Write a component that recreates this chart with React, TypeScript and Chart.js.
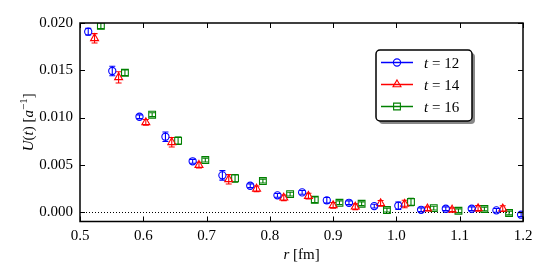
import { useEffect, useRef } from "react";
import { Chart, registerables } from "chart.js";
Chart.register(...registerables);

// ---- data ----
const rValues = [0.513, 0.551, 0.594, 0.635, 0.678, 0.725, 0.769, 0.812, 0.851, 0.890, 0.925, 0.965, 1.003, 1.039, 1.078, 1.119, 1.158, 1.197];
const seriesLabels = ["12", "14", "16"];
const seriesOffsets = [0, 0.01, 0.02];
const u12 = [0.01908, 0.01492, 0.01008, 0.00797, 0.00537, 0.00388, 0.00278, 0.00177, 0.00208, 0.00124, 0.00098, 0.00063, 0.00067, 0.00024, 0.00035, 0.00035, 0.00018, -0.00028];
const e12 = [0.00035, 0.0005, 0.0002, 0.0005, 0.0002, 0.0005, 0.0002, 0.0002, 0.0002, 0.0003, 0.0002, 0.0002, 0.0004, 0.0002, 0.0002, 0.0002, 0.0002, 0.0002];
const u14 = [0.01838, 0.01425, 0.00949, 0.00738, 0.00497, 0.00346, 0.00246, 0.00151, 0.00169, 0.00071, 0.00056, 0.00092, 0.00085, 0.00035, 0.00024, 0.00039, 0.00036];
const e14 = [0.0005, 0.0006, 0.0003, 0.0005, 0.0003, 0.0005, 0.0003, 0.0003, 0.0003, 0.0003, 0.0003, 0.0003, 0.0004, 0.0002, 0.0002, 0.0003, 0.0003];
const u16 = [0.01971, 0.01474, 0.0103, 0.00754, 0.0055, 0.00357, 0.00328, 0.0019, 0.0013, 0.00098, 0.00088, 0.00021, 0.00106, 0.00042, 0.00014, 0.00032, -0.0001];
const e16 = [0.0003, 0.0003, 0.0002, 0.0004, 0.0002, 0.0004, 0.0002, 0.0002, 0.0003, 0.0002, 0.0002, 0.0002, 0.0004, 0.0002, 0.0002, 0.0002, 0.0002];
const xTicks = [0.5, 0.6, 0.7, 0.8, 0.9, 1.0, 1.1, 1.2];
const yTicks = [0.0, 0.005, 0.01, 0.015, 0.02];

const colors = ["#0000ff", "#ff0000", "#008000"];
const styles = ["circle", "triangle", "rect"];
const radii = [3.6, 4.6, 4.8];
const allU = [u12, u14, u16];
const allE = [e12, e14, e16];

const FAM = "'Liberation Serif', 'DejaVu Serif', serif";

type Seg = { t: string; f: string; dy?: number };
function drawSegs(ctx: CanvasRenderingContext2D, segs: Seg[], x: number, y: number, align: "left" | "center") {
  let w = 0;
  for (const s of segs) { ctx.font = s.f; w += ctx.measureText(s.t).width; }
  let cx = align === "center" ? x - w / 2 : x;
  ctx.textBaseline = "alphabetic";
  ctx.textAlign = "left";
  for (const s of segs) {
    ctx.font = s.f;
    ctx.fillText(s.t, cx, y + (s.dy || 0));
    cx += ctx.measureText(s.t).width;
  }
}

function drawMarker(ctx: CanvasRenderingContext2D, style: string, x: number, y: number, r: number) {
  ctx.beginPath();
  if (style === "circle") {
    ctx.arc(x, y, r, 0, Math.PI * 2);
  } else if (style === "triangle") {
    ctx.moveTo(x, y - r);
    ctx.lineTo(x + r * Math.sin(Math.PI / 3), y + r * 0.5);
    ctx.lineTo(x - r * Math.sin(Math.PI / 3), y + r * 0.5);
    ctx.closePath();
  } else {
    const s = Math.SQRT1_2 * r;
    ctx.rect(x - s, y - s, 2 * s, 2 * s);
  }
  ctx.stroke();
}

const decorPlugin = {
  id: "decor",
  beforeDatasetsDraw(chart: any) {
    const { ctx, chartArea: a, scales } = chart;
    const ys = scales.y, xs = scales.x;
    ctx.save();
    // zero dotted line
    ctx.strokeStyle = "#000";
    ctx.lineWidth = 1;
    ctx.setLineDash([1, 2]);
    const y0 = Math.round(ys.getPixelForValue(0)) + 0.5;
    ctx.beginPath();
    ctx.moveTo(a.left, y0);
    ctx.lineTo(a.right, y0);
    ctx.stroke();
    ctx.setLineDash([]);
    // error bars
    ctx.beginPath();
    ctx.rect(a.left, a.top, a.right - a.left, a.bottom - a.top);
    ctx.clip();
    chart.data.datasets.forEach((ds: any, i: number) => {
      ctx.strokeStyle = colors[i];
      ctx.lineWidth = 1.1;
      ds.data.forEach((p: any, j: number) => {
        const e = allE[i][j];
        const px = xs.getPixelForValue(p.x);
        const top = ys.getPixelForValue(p.y + e);
        const bot = ys.getPixelForValue(p.y - e);
        ctx.beginPath();
        ctx.moveTo(px, top); ctx.lineTo(px, bot);
        ctx.moveTo(px - 3, top); ctx.lineTo(px + 3, top);
        ctx.moveTo(px - 3, bot); ctx.lineTo(px + 3, bot);
        ctx.stroke();
      });
    });
    ctx.restore();
  },
  afterDraw(chart: any) {
    const { ctx, chartArea: a, scales } = chart;
    const ys = scales.y, xs = scales.x;
    ctx.save();
    // frame
    ctx.strokeStyle = "#000";
    ctx.lineWidth = 1.5;
    ctx.strokeRect(a.left, a.top, a.right - a.left, a.bottom - a.top);
    // inward ticks
    ctx.lineWidth = 1;
    ctx.beginPath();
    for (const v of xTicks) {
      const px = Math.round(xs.getPixelForValue(v)) + 0.5;
      ctx.moveTo(px, a.bottom); ctx.lineTo(px, a.bottom - 5);
      ctx.moveTo(px, a.top); ctx.lineTo(px, a.top + 5);
    }
    for (const v of yTicks) {
      const py = Math.round(ys.getPixelForValue(v)) + 0.5;
      ctx.moveTo(a.left, py); ctx.lineTo(a.left + 5, py);
      ctx.moveTo(a.right, py); ctx.lineTo(a.right - 5, py);
    }
    ctx.stroke();

    // axis titles
    ctx.fillStyle = "#000";
    const reg = `15px ${FAM}`;
    const ital = `italic 15px ${FAM}`;
    drawSegs(ctx, [{ t: "r", f: ital }, { t: " [fm]", f: reg }], (a.left + a.right) / 2, 259, "center");
    ctx.save();
    ctx.translate(33, (a.top + a.bottom) / 2);
    ctx.rotate(-Math.PI / 2);
    drawSegs(ctx, [
      { t: "U", f: ital }, { t: "(", f: reg }, { t: "t", f: ital }, { t: ")", f: reg },
      { t: " [", f: reg }, { t: "a", f: ital }, { t: "\u22121", f: `11px ${FAM}`, dy: -6 }, { t: "]", f: reg },
    ], 0, 0, "center");
    ctx.restore();

    // legend
    const bx = a.right - 147, by = a.top + 27, bw = 96, bh = 71;
    const rr = 4;
    const rrect = (x: number, y: number, w: number, h: number) => {
      ctx.beginPath();
      ctx.moveTo(x + rr, y);
      ctx.arcTo(x + w, y, x + w, y + h, rr);
      ctx.arcTo(x + w, y + h, x, y + h, rr);
      ctx.arcTo(x, y + h, x, y, rr);
      ctx.arcTo(x, y, x + w, y, rr);
      ctx.closePath();
    };
    ctx.fillStyle = "#888";
    rrect(bx + 3, by + 3, bw, bh);
    ctx.fill();
    ctx.fillStyle = "#fff";
    rrect(bx, by, bw, bh);
    ctx.fill();
    ctx.strokeStyle = "#000";
    ctx.lineWidth = 1.5;
    ctx.stroke();
    seriesLabels.forEach((lab, i) => {
      const cy = by + 12.5 + i * 22;
      ctx.strokeStyle = colors[i];
      ctx.lineWidth = 1.5;
      ctx.beginPath();
      ctx.moveTo(bx + 5, cy); ctx.lineTo(bx + 37, cy);
      ctx.stroke();
      ctx.lineWidth = 1.1;
      drawMarker(ctx, styles[i], bx + 21, cy, radii[i]);
      ctx.fillStyle = "#000";
      drawSegs(ctx, [{ t: "t", f: `italic 15px ${FAM}` }, { t: " = " + lab, f: `15px ${FAM}` }], bx + 48, cy + 5, "left");
    });
    ctx.restore();
  },
};

export default function App() {
  const ref = useRef<HTMLCanvasElement>(null);
  useEffect(() => {
    if (!ref.current) return;
    const datasets = allU.map((vals, i) => ({
      label: "t = " + seriesLabels[i],
      data: vals.map((v, j) => ({ x: rValues[j] + seriesOffsets[i], y: v })),
      showLine: false,
      pointStyle: styles[i] as any,
      pointRadius: radii[i],
      pointBorderWidth: 1.1,
      pointBorderColor: colors[i],
      pointBackgroundColor: "rgba(0,0,0,0)",
      borderColor: colors[i],
      backgroundColor: "rgba(0,0,0,0)",
    }));
    const chart = new Chart(ref.current, {
      type: "scatter",
      data: { datasets },
      options: {
        animation: false,
        responsive: false,
        events: [],
        layout: { padding: { top: 23, right: 27, left: 0, bottom: 0 } },
        plugins: { legend: { display: false }, tooltip: { enabled: false } },
        scales: {
          x: {
            type: "linear",
            min: 0.5,
            max: 1.2,
            grid: { display: false, drawTicks: false },
            border: { display: false },
            afterBuildTicks: (s: any) => { s.ticks = xTicks.map((v) => ({ value: v })); },
            afterFit: (s: any) => { s.height = 58.5; },
            ticks: { padding: 6, color: "#000", font: { family: FAM, size: 15 }, callback: (v: any) => Number(v).toFixed(1) },
          },
          y: {
            type: "linear",
            min: -0.001,
            max: 0.02,
            grid: { display: false, drawTicks: false },
            border: { display: false },
            afterBuildTicks: (s: any) => { s.ticks = yTicks.map((v) => ({ value: v })); },
            afterFit: (s: any) => { s.width = 80; },
            ticks: { padding: 7, color: "#000", font: { family: FAM, size: 15 }, callback: (v: any) => Number(v).toFixed(3) },
          },
        },
      },
      plugins: [decorPlugin],
    });
    return () => chart.destroy();
  }, []);
  return (
    <div style={{ position: "absolute", left: 0, top: 0, width: 550, height: 280 }}>
      <canvas ref={ref} width={550} height={280} />
    </div>
  );
}
